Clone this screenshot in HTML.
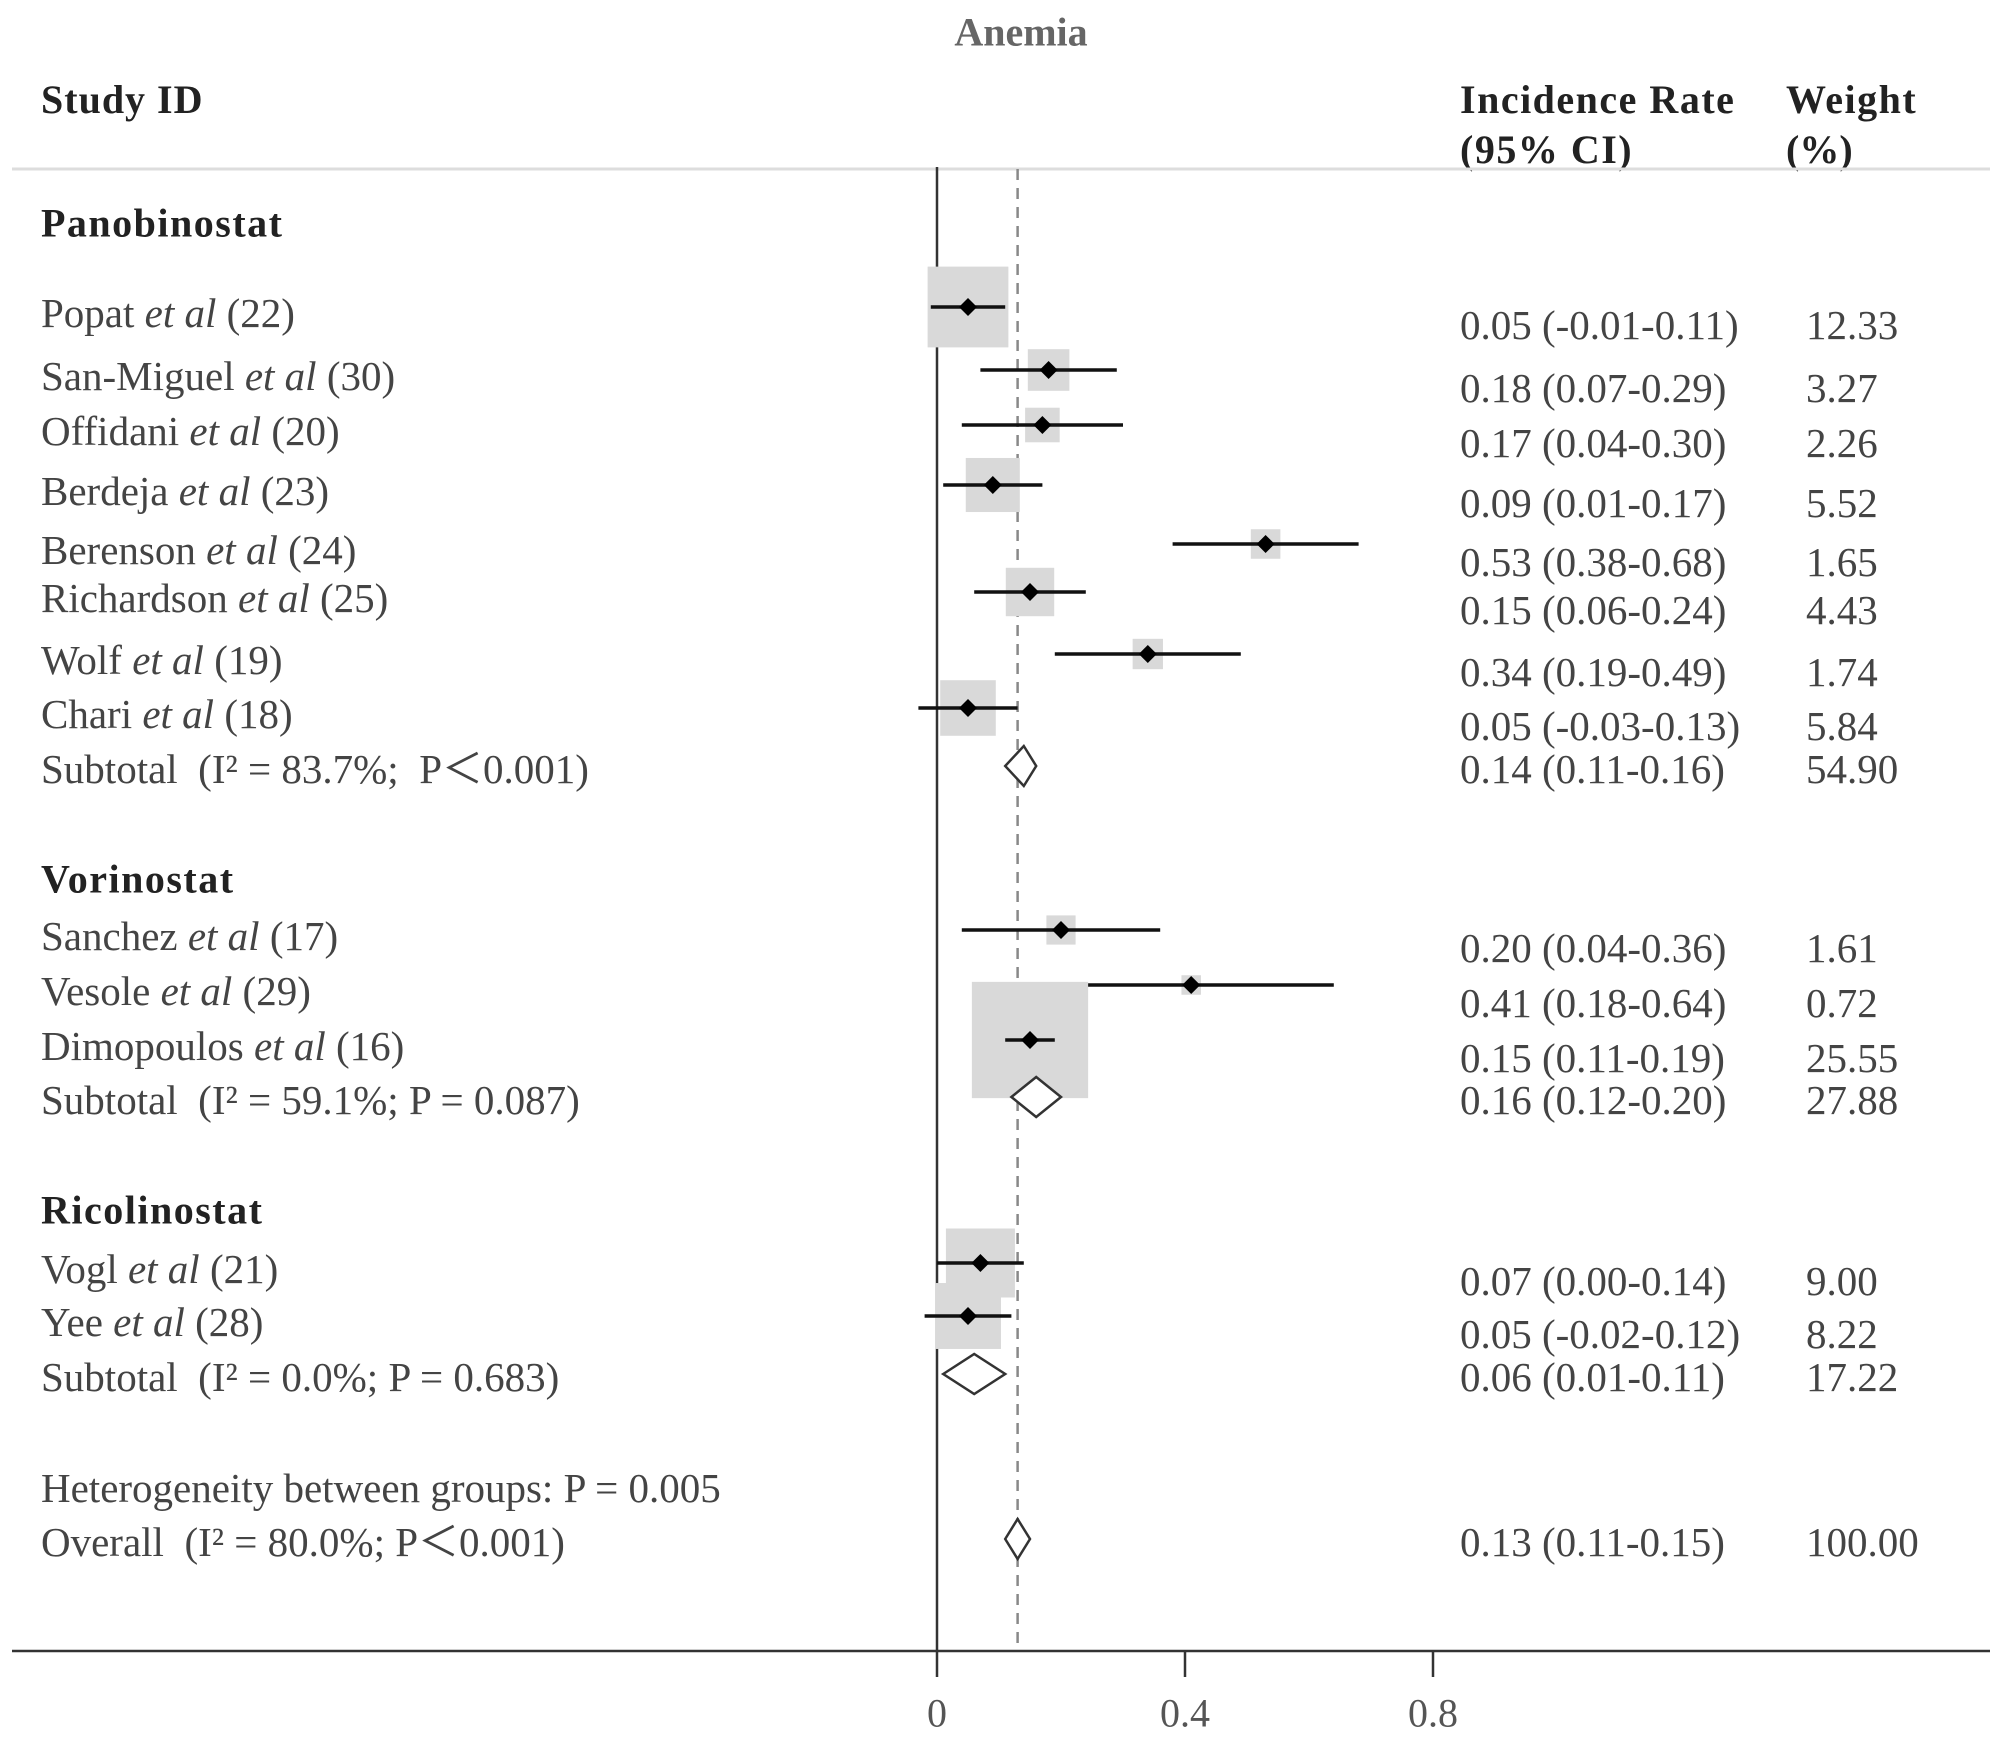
<!DOCTYPE html>
<html><head><meta charset="utf-8">
<style>
html,body{margin:0;padding:0;background:#fff;}
svg{display:block;}
text{font-family:"Liberation Serif",serif;white-space:pre;}
</style></head>
<body>
<svg id="chart" width="2008" height="1744" viewBox="0 0 2008 1744" xmlns="http://www.w3.org/2000/svg">
<text x="1021" y="32" text-anchor="middle" dominant-baseline="central" font-size="40" font-weight="bold" fill="#666">Anemia</text>
<text x="41" y="113" font-size="40" font-weight="bold" fill="#222" letter-spacing="1">Study ID</text>
<text x="1460" y="113" font-size="40" font-weight="bold" fill="#222" letter-spacing="1.5">Incidence Rate</text>
<text x="1460" y="163" font-size="40" font-weight="bold" fill="#222" letter-spacing="1.5">(95% CI)</text>
<text x="1786" y="113" font-size="40" font-weight="bold" fill="#222" letter-spacing="1.5">Weight</text>
<text x="1786" y="163" font-size="40" font-weight="bold" fill="#222">(%)</text>
<line x1="12" y1="169" x2="1990" y2="169" stroke="#ddd" stroke-width="3"/>
<g id="plot"></g>
</svg>
<script>
const labels = ["Popat|(22)","San-Miguel|(30)","Offidani|(20)","Berdeja|(23)","Berenson|(24)","Richardson|(25)","Wolf|(19)","Chari|(18)","Sanchez|(17)","Vesole|(29)","Dimopoulos|(16)","Vogl|(21)","Yee|(28)"];
const est = [0.05,0.18,0.17,0.09,0.53,0.15,0.34,0.05,0.20,0.41,0.15,0.07,0.05];
const lo = [-0.01,0.07,0.04,0.01,0.38,0.06,0.19,-0.03,0.04,0.18,0.11,0.00,-0.02];
const hi = [0.11,0.29,0.30,0.17,0.68,0.24,0.49,0.13,0.36,0.64,0.19,0.14,0.12];
const weights = [12.33,3.27,2.26,5.52,1.65,4.43,1.74,5.84,1.61,0.72,25.55,9.00,8.22];
const rowY = [307,370,425,485,544,592,654,708,930,985,1040,1263,1316];
const ciText = ["0.05 (-0.01-0.11)","0.18 (0.07-0.29)","0.17 (0.04-0.30)","0.09 (0.01-0.17)","0.53 (0.38-0.68)","0.15 (0.06-0.24)","0.34 (0.19-0.49)","0.05 (-0.03-0.13)","0.20 (0.04-0.36)","0.41 (0.18-0.64)","0.15 (0.11-0.19)","0.07 (0.00-0.14)","0.05 (-0.02-0.12)"];
const weightText = ["12.33","3.27","2.26","5.52","1.65","4.43","1.74","5.84","1.61","0.72","25.55","9.00","8.22"];
const groups = ["Panobinostat","Vorinostat","Ricolinostat"];
const groupY = [223,879,1210];
const subLabels = ["Subtotal  (I\u00B2 = 83.7%;  P\uFF1C0.001)","Subtotal  (I\u00B2 = 59.1%; P = 0.087)","Subtotal  (I\u00B2 = 0.0%; P = 0.683)","Overall  (I\u00B2 = 80.0%; P\uFF1C0.001)"];
const subEst = [0.14,0.16,0.06,0.13];
const subLo = [0.11,0.12,0.01,0.11];
const subHi = [0.16,0.20,0.11,0.15];
const subY = [766,1097,1374,1539];
const subCi = ["0.14 (0.11-0.16)","0.16 (0.12-0.20)","0.06 (0.01-0.11)","0.13 (0.11-0.15)"];
const subW = ["54.90","27.88","17.22","100.00"];
const tickVals = [0,0.4,0.8];
const tickLabels = ["0","0.4","0.8"];
const overallRef = 0.13;

const X0 = 937, SCALE = 620, AXIS_Y = 1651;
function x(v){ return X0 + v*SCALE; }
const NS = "http://www.w3.org/2000/svg";
const g = document.getElementById('plot');
function mk(tag, attrs){ const e=document.createElementNS(NS,tag); for(const k in attrs) e.setAttribute(k,attrs[k]); g.appendChild(e); return e; }

let e = mk('line',{x1:x(0),y1:167,x2:x(0),y2:AXIS_Y,stroke:'#333','stroke-width':2.5});


e = mk('line',{x1:x(overallRef),y1:169,x2:x(overallRef),y2:AXIS_Y,stroke:'#888','stroke-width':2.5,'stroke-dasharray':'11 8'});


e = mk('line',{x1:12,y1:AXIS_Y,x2:1990,y2:AXIS_Y,stroke:'#333','stroke-width':2.5});


tickVals.forEach((v,i)=>{
  let t = mk('line',{x1:x(v),y1:AXIS_Y,x2:x(v),y2:AXIS_Y+26,stroke:'#333','stroke-width':2.5});
  
  
  let l = mk('text',{x:x(v),y:1713,'text-anchor':'middle','dominant-baseline':'central','font-size':40,fill:'#555'});
  l.textContent = tickLabels[i];
  
  
});

groups.forEach((n,i)=>{
  let t = mk('text',{x:41,y:groupY[i],'dominant-baseline':'central','font-size':40,'font-weight':'bold',fill:'#222','letter-spacing':1.5});
  t.textContent = n;
  
  
});

labels.forEach((lab,i)=>{
  const y = rowY[i];
  const s = 23*Math.sqrt(weights[i]);
  let b = mk('rect',{x:x(est[i])-s/2,y:y-s/2,width:s,height:s,fill:'#d9d9d9'});
  
  
  let c = mk('line',{x1:x(lo[i]),y1:y,x2:x(hi[i]),y2:y,stroke:'#111','stroke-width':3.5});
  
  
  const cx=x(est[i]);
  let p = mk('polygon',{points:`${cx-9},${y} ${cx},${y-9} ${cx+9},${y} ${cx},${y+9}`,fill:'#000'});
  
  
  const parts = lab.split('|');
  let t = mk('text',{x:41,y:y+6,'dominant-baseline':'central','font-size':41,fill:'#444'});
  t.innerHTML = parts[0]+' <tspan font-style="italic">et al</tspan> '+parts[1];
  
  
  let v = mk('text',{x:1460,y:y+18,'dominant-baseline':'central','font-size':41,fill:'#444'});
  v.textContent = ciText[i];
  
  
  let w = mk('text',{x:1806,y:y+18,'dominant-baseline':'central','font-size':41,fill:'#444'});
  w.textContent = weightText[i];
  
  
});

subEst.forEach((m,i)=>{
  const y = subY[i];
  let d = mk('polygon',{points:`${x(subLo[i])},${y} ${x(m)},${y-20} ${x(subHi[i])},${y} ${x(m)},${y+20}`,fill:'#fff',stroke:'#333','stroke-width':2.5});
  
  
  let t = mk('text',{x:41,y:y+3,'dominant-baseline':'central','font-size':41,fill:'#444'});
  t.textContent = subLabels[i];
  
  
  let v = mk('text',{x:1460,y:y+3,'dominant-baseline':'central','font-size':41,fill:'#444'});
  v.textContent = subCi[i];
  
  
  let w = mk('text',{x:1806,y:y+3,'dominant-baseline':'central','font-size':41,fill:'#444'});
  w.textContent = subW[i];
  
  
});
let h = mk('text',{x:41,y:1488,'dominant-baseline':'central','font-size':41,fill:'#444'});
h.textContent = 'Heterogeneity between groups: P = 0.005';


</script>
</body></html>
